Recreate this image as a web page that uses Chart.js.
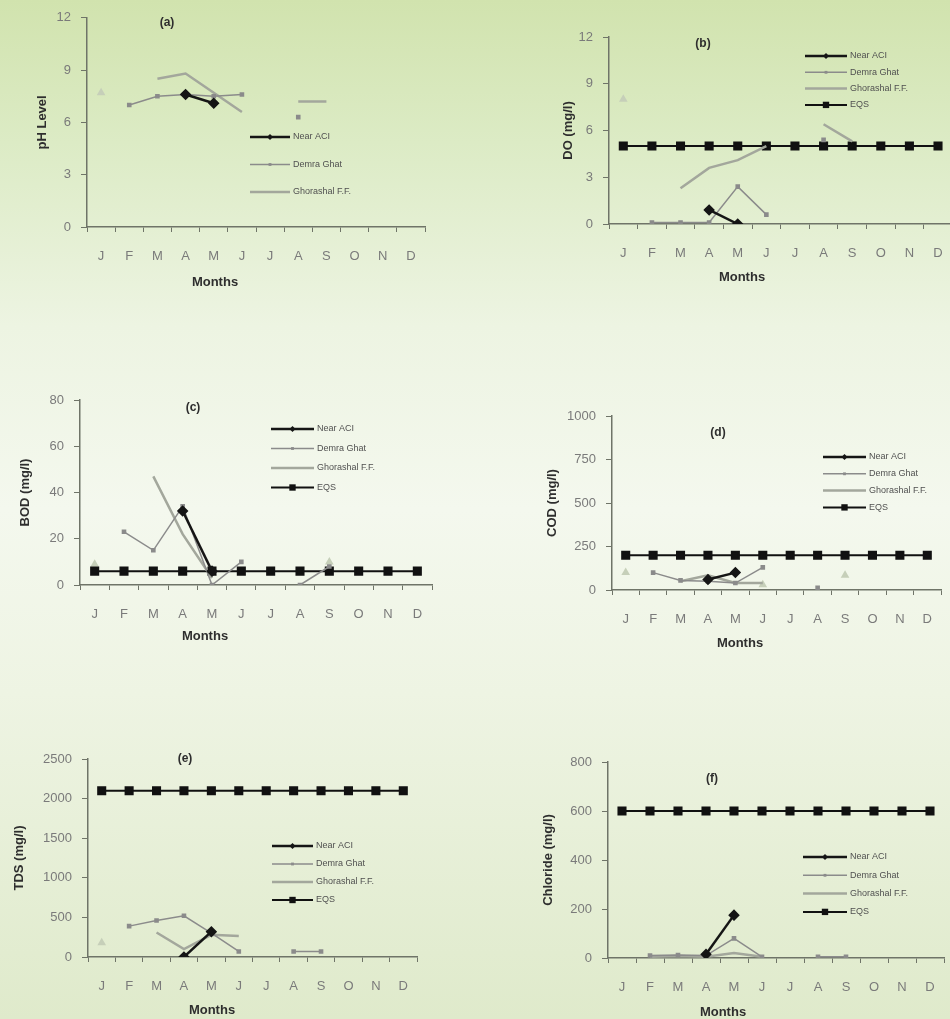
<!DOCTYPE html>
<html>
<head>
<meta charset="utf-8">
<script src="https://cdn.jsdelivr.net/npm/chart.js@4.4.1/dist/chart.umd.min.js"></script>
<style>
  html, body { margin: 0; padding: 0; }
  body {
    width: 950px; height: 1019px; position: relative; overflow: hidden;
    background: linear-gradient(180deg, #d1e3ae 0%, #dcebc5 14%, #edf4e2 32%, #f4f8ee 50%, #eef4e3 68%, #dfeacb 100%);
  }
  canvas { position: absolute; left: 0; top: 0; }
</style>
</head>
<body>
<canvas id="pa" width="960" height="1019"></canvas>
<canvas id="pb" width="960" height="1019"></canvas>
<canvas id="pc" width="960" height="1019"></canvas>
<canvas id="pd" width="960" height="1019"></canvas>
<canvas id="pe" width="960" height="1019"></canvas>
<canvas id="pf" width="960" height="1019"></canvas>
<script>
// months and series
const months = ['J', 'F', 'M', 'A', 'M', 'J', 'J', 'A', 'S', 'O', 'N', 'D'];
const names = ['Near ACI', 'Demra Ghat', 'Ghorashal F.F.', 'EQS'];

// (a) pH
const phNearACI   = [null, null, null, 7.6, 7.1, null, null, null, null, null, null, null];
const phDemra     = [null, 7.0, 7.5, 7.6, 7.5, 7.6, null, 6.3, null, null, null, null];
const phGhorashal = [null, null, 8.5, 8.8, 7.7, 6.6, null, 7.2, 7.2, null, null, null];
const phOther     = [7.7, null, null, null, null, null, null, null, null, null, null, null];

// (b) DO
const doNearACI   = [null, null, null, 0.9, 0, null, null, null, null, null, null, null];
const doDemra     = [null, 0.1, 0.1, 0.1, 2.4, 0.6, null, 5.4, null, null, null, null];
const doGhorashal = [null, null, 2.3, 3.6, 4.1, 5.0, null, 6.4, 5.3, null, null, null];
const doEQS       = [5, 5, 5, 5, 5, 5, 5, 5, 5, 5, 5, 5];
const doOther     = [8.0, null, null, null, null, null, null, null, null, null, null, null];

// (c) BOD
const bodNearACI   = [null, null, null, 32, 6, null, null, null, null, null, null, null];
const bodDemra     = [null, 23, 15, 34, 0, 10, null, 0, 8, null, null, null];
const bodGhorashal = [null, null, 47, 22, 3, null, null, null, null, null, null, null];
const bodEQS       = [6, 6, 6, 6, 6, 6, 6, 6, 6, 6, 6, 6];
const bodOther     = [9, null, null, null, null, null, null, null, 10, null, null, null];

// (d) COD
const codNearACI   = [null, null, null, 60, 100, null, null, null, null, null, null, null];
const codDemra     = [null, 100, 55, 50, 40, 130, null, 12, null, null, null, null];
const codGhorashal = [null, null, 50, 85, 40, 40, null, null, null, null, null, null];
const codEQS       = [200, 200, 200, 200, 200, 200, 200, 200, 200, 200, 200, 200];
const codOther     = [100, null, null, null, null, 30, null, null, 85, null, null, null];

// (e) TDS
const tdsNearACI   = [null, null, null, 0, 320, null, null, null, null, null, null, null];
const tdsDemra     = [null, 390, 460, 520, 300, 70, null, 70, 70, null, null, null];
const tdsGhorashal = [null, null, 310, 100, 280, 265, null, null, null, null, null, null];
const tdsEQS       = [2100, 2100, 2100, 2100, 2100, 2100, 2100, 2100, 2100, 2100, 2100, 2100];
const tdsOther     = [180, null, null, null, null, null, null, null, null, null, null, null];

// (f) Chloride
const clNearACI   = [null, null, null, 15, 175, null, null, null, null, null, null, null];
const clDemra     = [null, 10, 12, 10, 80, 5, null, 5, 5, null, null, null];
const clGhorashal = [null, 5, 8, 5, 20, 5, null, null, null, null, null, null];
const clEQS       = [600, 600, 600, 600, 600, 600, 600, 600, 600, 600, 600, 600];

const FONT = '"Liberation Sans", Arial, sans-serif';

const styles = [
    { borderColor: '#151515', backgroundColor: '#151515', borderWidth: 2.5, pointStyle: 'rectRot', pointRadius: 4, legendRadius: 3 },
    { borderColor: '#8b8b8b', backgroundColor: '#8b8b8b', borderWidth: 1.5, pointStyle: 'rect', pointRadius: 2.2, legendRadius: 2 },
    { borderColor: '#a3a79c', backgroundColor: '#a3a79c', borderWidth: 2.5, pointStyle: 'circle', pointRadius: 0 },
    { borderColor: '#111111', backgroundColor: '#111111', borderWidth: 2, pointStyle: 'rect', pointRadius: 5, legendRadius: 4.5 }
];
const otherStyle = { borderColor: '#c6cfb9', backgroundColor: '#c6cfb9', showLine: false, pointStyle: 'triangle', pointRadius: 5, borderWidth: 0 };

function buildDatasets(series, other) {
    const list = [];
    series.forEach((vals, i) => {
        if (vals) list.push(Object.assign({ label: names[i], data: vals }, styles[i]));
    });
    if (other) list.push(Object.assign({ label: '', data: other, noLegend: true }, otherStyle));
    return list;
}

// draws panel letter, "Months" and the legend inside the plot
const panelDecor = {
    id: 'panelDecor',
    afterDraw(chart, args, o) {
        const ctx = chart.ctx;
        ctx.save();
        ctx.textBaseline = 'middle';
        ctx.textAlign = 'center';
        ctx.fillStyle = '#2e2e2e';
        ctx.font = 'bold 12px ' + FONT;
        ctx.fillText(o.label, o.labelX, o.labelY);
        ctx.font = 'bold 13px ' + FONT;
        ctx.fillText('Months', o.monthsX, o.monthsY);

        ctx.font = '9px ' + FONT;
        ctx.textAlign = 'left';
        let row = 0;
        chart.data.datasets.forEach(ds => {
            if (ds.noLegend) return;
            const y = o.y + row * o.gap;
            ctx.strokeStyle = ds.borderColor;
            ctx.lineWidth = ds.borderWidth;
            ctx.beginPath();
            ctx.moveTo(o.x, y);
            ctx.lineTo(o.x + o.len, y);
            ctx.stroke();
            if (ds.pointRadius > 0) {
                ctx.fillStyle = ds.backgroundColor;
                Chart.helpers.drawPoint(ctx, { pointStyle: ds.pointStyle, radius: ds.legendRadius, rotation: 0, borderWidth: 0 }, o.x + o.len / 2, y);
            }
            ctx.fillStyle = '#505050';
            ctx.fillText(ds.label, o.x + o.len + 3, y);
            row++;
        });
        ctx.restore();
    }
};

function drawPanel(cfg) {
    const [ax0, ay0, ax1, ay1] = cfg.area;
    const scaleLeft = cfg.titleX - 7.8;
    const xHeight = 40;
    new Chart(document.getElementById(cfg.id), {
        type: 'line',
        data: { labels: months, datasets: cfg.datasets },
        plugins: [panelDecor],
        options: {
            responsive: false,
            animation: false,
            devicePixelRatio: 1,
            layout: { padding: { left: scaleLeft, top: ay0, right: 960 - ax1, bottom: 1019 - ay1 - xHeight } },
            elements: { line: { tension: 0 } },
            plugins: {
                legend: { display: false },
                tooltip: { enabled: false },
                panelDecor: cfg.decor
            },
            scales: {
                x: {
                    offset: true,
                    afterFit: s => { s.height = xHeight; },
                    border: { display: true, color: '#6f7468', width: 1.5 },
                    grid: { display: true, offset: true, drawOnChartArea: false, drawTicks: true, tickLength: 5, color: '#6f7468' },
                    ticks: { color: '#7a7a7a', padding: 17, font: { family: FONT, size: 13 }, autoSkip: false, maxRotation: 0 }
                },
                y: {
                    min: 0, max: cfg.max,
                    afterFit: s => { s.width = ax0 - scaleLeft; },
                    border: { display: true, color: '#6f7468', width: 1.5 },
                    grid: { drawOnChartArea: false, drawTicks: true, tickLength: 6, color: '#6f7468' },
                    ticks: { stepSize: cfg.step, color: '#7a7a7a', padding: 10, font: { family: FONT, size: 13 },
                        callback: v => String(v) },
                    title: { display: true, text: cfg.yTitle, color: '#2e2e2e', padding: 0, font: { family: FONT, size: 13, weight: 'bold' } }
                }
            }
        }
    });
}

drawPanel({ id: 'pa', yTitle: 'pH Level', max: 12, step: 3, area: [87, 15, 425, 227], titleX: 42,
    datasets: buildDatasets([phNearACI, phDemra, phGhorashal, null], phOther),
    decor: { label: '(a)', labelX: 167, labelY: 23, monthsX: 215, monthsY: 282, x: 250, y: 137, gap: 27.5, len: 40 } });

drawPanel({ id: 'pb', yTitle: 'DO (mg/l)', max: 12, step: 3, area: [609, 37, 955, 224], titleX: 568,
    datasets: buildDatasets([doNearACI, doDemra, doGhorashal, doEQS], doOther),
    decor: { label: '(b)', labelX: 703, labelY: 44, monthsX: 742, monthsY: 277, x: 805, y: 56, gap: 16.3, len: 42 } });

drawPanel({ id: 'pc', yTitle: 'BOD (mg/l)', max: 80, step: 20, area: [80, 400, 432, 585], titleX: 25,
    datasets: buildDatasets([bodNearACI, bodDemra, bodGhorashal, bodEQS], bodOther),
    decor: { label: '(c)', labelX: 193, labelY: 408, monthsX: 205, monthsY: 636, x: 271, y: 429, gap: 19.5, len: 43 } });

drawPanel({ id: 'pd', yTitle: 'COD (mg/l)', max: 1000, step: 250, area: [612, 416, 941, 590], titleX: 552,
    datasets: buildDatasets([codNearACI, codDemra, codGhorashal, codEQS], codOther),
    decor: { label: '(d)', labelX: 718, labelY: 433, monthsX: 740, monthsY: 643, x: 823, y: 457, gap: 16.8, len: 43 } });

drawPanel({ id: 'pe', yTitle: 'TDS (mg/l)', max: 2500, step: 500, area: [88, 759, 417, 957], titleX: 19,
    datasets: buildDatasets([tdsNearACI, tdsDemra, tdsGhorashal, tdsEQS], tdsOther),
    decor: { label: '(e)', labelX: 185, labelY: 759, monthsX: 212, monthsY: 1010, x: 272, y: 846, gap: 18, len: 41 } });

drawPanel({ id: 'pf', yTitle: 'Chloride (mg/l)', max: 800, step: 200, area: [608, 762, 944, 958], titleX: 548,
    datasets: buildDatasets([clNearACI, clDemra, clGhorashal, clEQS], null),
    decor: { label: '(f)', labelX: 712, labelY: 779, monthsX: 723, monthsY: 1012, x: 803, y: 857, gap: 18.3, len: 44 } });
</script>
</body>
</html>
